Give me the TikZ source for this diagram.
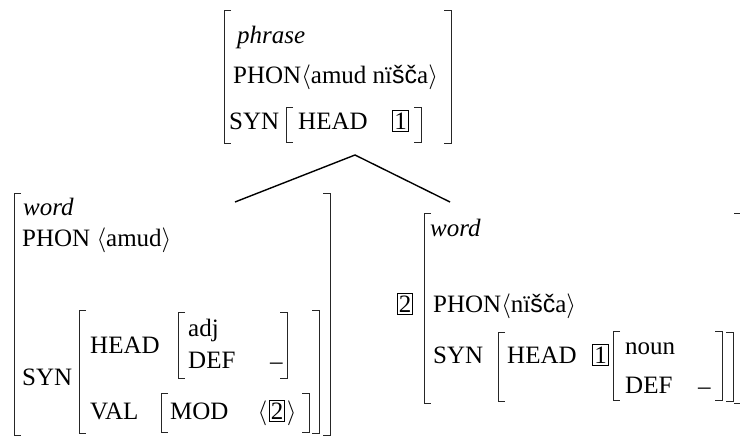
\documentclass[tikz,border=0pt]{standalone}
\usepackage{fontspec}
\setmainfont{Liberation Serif}
\newfontfamily\sansfb{Liberation Sans}
\usepackage{tikz}
\usetikzlibrary{positioning}

\begin{document}
\begin{tikzpicture}[x=1pt,y=-1pt,
    txt/.style={anchor=base west,inner sep=0pt,font=\fontsize{25}{30}\selectfont},
    tagbox/.style={draw,anchor=base,inner xsep=1.5pt,inner ysep=2pt,line width=0.7pt,font=\fontsize{25}{30}\selectfont},
    brk/.style={line width=0.9pt,black!85},
    branch/.style={line width=1.4pt}]
  \useasboundingbox (0,0) rectangle (740,439);

  % brackets: left x / right x / top y / bottom y
  \foreach \xl/\xr/\yt/\yb in {224/451/10/143, 286/421/107/142,
      14/330/193/435, 79/319/310/433, 178/287/312/378, 161/309/393/432,
      424/741/213/403, 498/733/332/401, 613/722/331/400}
    {\draw[brk] (\xl+7,\yt) -| (\xl,\yb) -- (\xl+7,\yb);
     \draw[brk] (\xr-7,\yt) -| (\xr,\yb) -- (\xr-7,\yb);}

  % mother
  \node[txt] (phr) at (237,43) {\itshape phrase};
  \node[txt] (phrphon) at (233,83) {PHON$\langle$amud nï{\sansfb šč}a$\rangle$};
  \node[txt] (phrsyn) at (229,129) {SYN};
  \node[txt] (phrhead) at (298,129) {HEAD};
  \node[tagbox] (phr1) at (400.5,129) {1};

  \coordinate (apex) at (355,155);
  \coordinate (lw) at (235,202);
  \coordinate (rw) at (450,202);
  \draw[branch] (lw) -- (apex) -- (rw);

  % left daughter
  \node[txt] (lword) at (23,215) {\itshape word};
  \node[txt] (lphon) at (22,246) {PHON $\langle$amud$\rangle$};
  \node[txt] (lsyn) at (22,385) {SYN};
  \node[txt] (lhead) at (90,353) {HEAD};
  \node[txt] (ladj) at (188,336) {adj};
  \node[txt] (ldef) at (188,368) {DEF};
  \node[txt] (lminus) at (270,369.5) {--};
  \node[txt] (lval) at (90,419) {VAL};
  \node[txt] (lmod) at (170,419) {MOD};
  \node[tagbox] (l2) at (277,419) {2};
  \node[txt,left=1.5pt of l2.base west,anchor=base east] (lopen) {$\langle$};
  \node[txt,right=1.5pt of l2.base east,anchor=base west] (lclose) {$\rangle$};

  % right daughter
  \node[tagbox] (r2) at (405,312) {2};
  \node[txt] (rword) at (430,236) {\itshape word};
  \node[txt] (rphon) at (433,312) {PHON$\langle$nï{\sansfb šč}a$\rangle$};
  \node[txt] (rsyn) at (433,363) {SYN};
  \node[txt] (rhead) at (507,363) {HEAD};
  \node[tagbox] (r1) at (600.5,363) {1};
  \node[txt] (rnoun) at (625,354) {noun};
  \node[txt] (rdef) at (625,393) {DEF};
  \node[txt] (rminus) at (698,394.5) {--};
\end{tikzpicture}
\end{document}
